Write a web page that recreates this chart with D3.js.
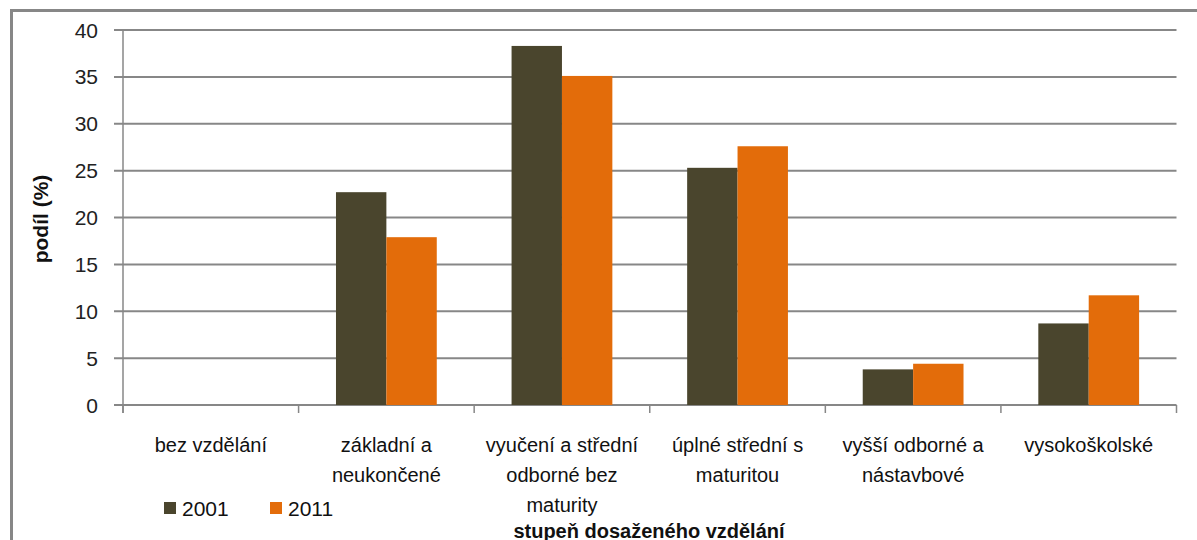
<!DOCTYPE html>
<html>
<head>
<meta charset="utf-8">
<script src="https://cdn.jsdelivr.net/npm/d3@7"></script>
<style>
    body {
        margin: 0;
        background-color: #fff;
    }

    svg {
        display: block;
        font-family: "Liberation Sans", Arial, sans-serif;
    }
</style>
</head>
<body>
<svg width="1197" height="540"></svg>
<script>
    // data
    var kategorie = ["bez vzdělání", "základní a\nneukončené", "vyučení a střední\nodborné bez\nmaturity",
        "úplné střední s\nmaturitou", "vyšší odborné a\nnástavbové", "vysokoškolské"];
    var roky = ["2001", "2011"];
    var hodnoty2001 = [0, 22.7, 38.3, 25.3, 3.8, 8.7];
    var hodnoty2011 = [0, 17.9, 35.1, 27.6, 4.4, 11.7];
    var yTicky = [0, 5, 10, 15, 20, 25, 30, 35, 40];

    var barvy = ["#4a452d", "#e36c0a"];
    var osaBarva = "#878787";

    var svg = d3.select("svg");

    // ramecek
    svg.append("rect")
        .attr("x", 11.5).attr("y", 10.5)
        .attr("width", 1200).attr("height", 540)
        .attr("fill", "none")
        .attr("stroke", osaBarva)
        .attr("stroke-width", 3);

    var vlevo = 123, vpravo = 1176.5, nahore = 30, dole = 405;

    var x0 = d3.scaleBand()
        .domain(kategorie)
        .range([vlevo, vpravo])
        .padding(0);

    var bw = x0.bandwidth();
    var x1 = d3.scaleBand()
        .domain(roky)
        .range([bw * 0.213, bw * 0.787])
        .padding(0);

    var y = d3.scaleLinear()
        .domain([0, 40])
        .range([dole, nahore]);

    // mrizka
    svg.append("g")
        .selectAll("line")
        .data(yTicky)
        .enter().append("line")
        .attr("x1", vlevo - 9).attr("x2", vpravo)
        .attr("y1", function (d) { return y(d); })
        .attr("y2", function (d) { return y(d); })
        .attr("stroke", osaBarva)
        .attr("stroke-width", 2);

    // popisky osy y
    svg.append("g")
        .selectAll("text")
        .data(yTicky)
        .enter().append("text")
        .attr("x", 98)
        .attr("y", function (d) { return y(d); })
        .attr("dy", "0.36em")
        .attr("text-anchor", "end")
        .attr("font-size", 21)
        .attr("fill", "#222")
        .text(function (d) { return d; });

    // sloupce
    var rows = kategorie.map(function (k, i) {
        return { kat: k, vals: [hodnoty2001[i], hodnoty2011[i]] };
    });

    var skupiny = svg.append("g")
        .selectAll("g")
        .data(rows)
        .enter().append("g")
        .attr("transform", function (d) { return "translate(" + x0(d.kat) + ",0)"; });

    skupiny.selectAll("rect")
        .data(function (d) { return d.vals.map(function (v, j) { return { rok: roky[j], v: v, j: j }; }); })
        .enter().append("rect")
        .attr("x", function (d) { return x1(d.rok); })
        .attr("width", x1.bandwidth())
        .attr("y", function (d) { return y(d.v); })
        .attr("height", function (d) { return y(0) - y(d.v); })
        .attr("fill", function (d) { return barvy[d.j]; });

    // osy
    svg.append("line")
        .attr("x1", vlevo).attr("x2", vlevo)
        .attr("y1", nahore).attr("y2", dole + 8)
        .attr("stroke", osaBarva).attr("stroke-width", 1.5);

    var hrany = kategorie.map(function (k) { return x0(k); }).concat([vpravo]);
    svg.append("g")
        .selectAll("line")
        .data(hrany)
        .enter().append("line")
        .attr("x1", function (d) { return d; }).attr("x2", function (d) { return d; })
        .attr("y1", dole).attr("y2", dole + 8)
        .attr("stroke", osaBarva).attr("stroke-width", 1.5);

    // popisky kategorii
    var popisky = svg.append("g")
        .selectAll("text")
        .data(kategorie)
        .enter().append("text")
        .attr("x", function (d) { return x0(d) + bw / 2; })
        .attr("y", 452)
        .attr("text-anchor", "middle")
        .attr("font-size", 20)
        .attr("fill", "#111");

    popisky.selectAll("tspan")
        .data(function (d) { return d.split("\n"); })
        .enter().append("tspan")
        .attr("x", function () { return d3.select(this.parentNode).attr("x"); })
        .attr("dy", function (d, i) { return i ? 30 : 0; })
        .text(function (d) { return d; });

    // nazev osy y
    svg.append("text")
        .attr("transform", "translate(48,219) rotate(-90)")
        .attr("text-anchor", "middle")
        .attr("font-size", 21)
        .attr("font-weight", "bold")
        .attr("fill", "#111")
        .text("podíl (%)");

    // nazev osy x
    svg.append("text")
        .attr("x", 649)
        .attr("y", 538)
        .attr("text-anchor", "middle")
        .attr("font-size", 20)
        .attr("font-weight", "bold")
        .attr("fill", "#111")
        .text("stupeň dosaženého vzdělání");

    // legenda
    var legX = [164, 270];
    var leg = svg.append("g")
        .selectAll("g")
        .data(roky)
        .enter().append("g")
        .attr("transform", function (d, i) { return "translate(" + legX[i] + ",502)"; });

    leg.append("rect")
        .attr("width", 12).attr("height", 12)
        .attr("fill", function (d, i) { return barvy[i]; });

    leg.append("text")
        .attr("x", 18).attr("y", 6)
        .attr("dy", "0.36em")
        .attr("font-size", 21)
        .attr("fill", "#111")
        .text(function (d) { return d; });
</script>
</body>
</html>
